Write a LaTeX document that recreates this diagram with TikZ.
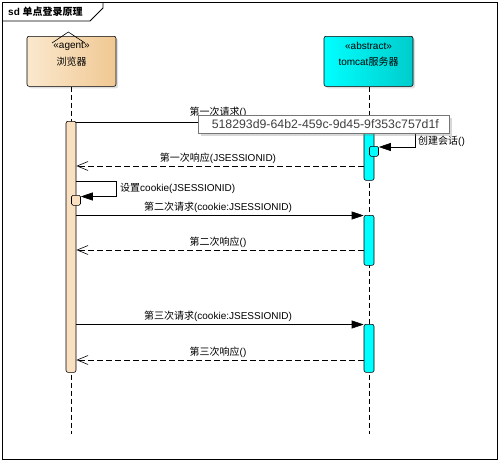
\documentclass[tikz,border=0pt]{standalone}
\usepackage{fontspec}
\setmainfont{Liberation Sans}
\newfontfamily\cjk{Noto Sans CJK SC}
\usetikzlibrary{arrows.meta,shadows}
\definecolor{agentL}{RGB}{250,232,206}
\definecolor{agentR}{RGB}{240,200,146}
\definecolor{agentbar}{RGB}{249,224,192}
\definecolor{cyanL}{RGB}{0,255,255}
\definecolor{cyanR}{RGB}{0,204,204}
\definecolor{tipborder}{RGB}{118,118,118}
\definecolor{tiptext}{RGB}{64,64,64}
\tikzset{
  lbl/.style={font=\fontsize{10}{12}\selectfont, inner sep=0pt},
  headbox/.style={draw, line width=0.6pt, rounded corners=2pt, minimum width=89pt, minimum height=50pt, anchor=north,
    drop shadow={shadow xshift=2pt, shadow yshift=-2pt, opacity=0.25}},
  life/.style={dash pattern=on 5pt off 3pt, line width=0.6pt},
  actbar/.style={draw, line width=0.6pt, rounded corners=2pt, minimum width=10pt, anchor=north, inner sep=0pt},
  nestbar/.style={draw, line width=0.6pt, rounded corners=1.5pt, minimum width=9pt, minimum height=10pt, anchor=north, inner sep=0pt},
  sync/.style={line width=0.6pt, -{Triangle[length=12pt,width=8pt]}},
  reply/.style={line width=0.6pt, dash pattern=on 6pt off 3pt, -{Straight Barb[length=11pt,width=9pt,line width=0.6pt]}}
}
\begin{document}
\begin{tikzpicture}[x=1pt,y=-1pt]
\useasboundingbox (0,0) rectangle (502,463);
\fill[white] (0,0) rectangle (502,463);
% frame
\draw[line width=0.9pt] (2.5,2.5) rectangle (497.5,459.5);
\draw[line width=0.9pt] (2.5,21) -- (90,21) -- (103,8) -- (103,2.5);
\node[anchor=west, inner sep=0pt, font=\fontsize{10}{12}\selectfont\bfseries] (title) at (8,12) {sd {\cjk 单点登录原理}};
% lifeline heads
\node[headbox, left color=agentL, right color=agentR] (b) at (71.5,36) {};
\node[headbox, left color=cyanL, right color=cyanR] (s) at (368.5,36) {};
\draw[line width=0.6pt] (52,43) -- (68.3,32) -- (85,43);
\node[lbl] (bst) at (71.5,46) {«agent»};
\node[lbl] (bnm) at (71.5,62) {\cjk 浏览器};
\node[lbl] (sst) at (368.5,46) {«abstract»};
\node[lbl] (snm) at (368.5,62) {tomcat{\cjk 服务器}};
% lifelines
\coordinate (bend) at (71,434);
\coordinate (send) at (369,434);
\draw[life] (b.south -| bend) -- (bend);
\draw[life] (s.south -| send) -- (send);
% activation bars
\node[actbar, fill=agentbar, minimum height=251pt] (ba) at (71,121) {};
\node[actbar, fill=cyanL, minimum height=59pt] (sa1) at (369,121) {};
\node[actbar, fill=cyanL, minimum height=50pt] (sa2) at (369,215) {};
\node[actbar, fill=cyanL, minimum height=48pt] (sa3) at (369,324) {};
% message y levels
\coordinate (y1) at (0,122);
\coordinate (y2) at (0,166);
\coordinate (y4) at (0,215.5);
\coordinate (y5) at (0,250);
\coordinate (y6) at (0,324.5);
\coordinate (y7) at (0,360);
% message 1
\draw[sync] (ba.east |- y1) -- (sa1.west |- y1);
\node[lbl] (l1) at (218,112) {{\cjk 第一次请求}()};
% server self message
\node[nestbar, fill=cyanL] (sn) at (374,146) {};
\coordinate (sk) at (415,131);
\draw[line width=0.6pt, -{Triangle[length=12pt,width=8pt]}] (sa1.east |- sk) -- (sk) -- (415,147) -- (sn.east |- 0,147);
\node[lbl, anchor=west] (lself) at (418,141) {{\cjk 创建会话}()};
% message 2
\draw[reply] (sa1.west |- y2) -- (ba.east |- y2);
\node[lbl] (l2) at (218,158) {{\cjk 第一次响应}(JSESSIONID)};
% browser self message
\node[nestbar, fill=agentbar] (bn) at (76,195) {};
\coordinate (bk) at (116,181);
\draw[line width=0.6pt, -{Triangle[length=12pt,width=8pt]}] (ba.east |- bk) -- (bk) -- (116,196.5) -- (bn.east |- 0,196.5);
\node[lbl, anchor=west] (lb) at (120,188) {{\cjk 设置}cookie(JSESSIONID)};
% message 3
\draw[sync] (ba.east |- y4) -- (sa2.west |- y4);
\node[lbl] (l3) at (218,207) {{\cjk 第二次请求}(cookie:JSESSIONID)};
\draw[reply] (sa2.west |- y5) -- (ba.east |- y5);
\node[lbl] (l4) at (218,242) {{\cjk 第二次响应}()};
\draw[sync] (ba.east |- y6) -- (sa3.west |- y6);
\node[lbl] (l5) at (218,316) {{\cjk 第三次请求}(cookie:JSESSIONID)};
\draw[reply] (sa3.west |- y7) -- (ba.east |- y7);
\node[lbl] (l6) at (218,352) {{\cjk 第三次响应}()};
% tooltip
\node[draw=tipborder, fill=white, line width=0.6pt, anchor=north west, minimum width=251pt, minimum height=18pt, inner sep=0pt,
  drop shadow={shadow xshift=3pt, shadow yshift=-3pt, opacity=0.3},
  font=\fontsize{12.3}{14}\selectfont, text=tiptext] (tip) at (198,115) {\hspace{3pt}518293d9-64b2-459c-9d45-9f353c757d1f};
\end{tikzpicture}
\end{document}
